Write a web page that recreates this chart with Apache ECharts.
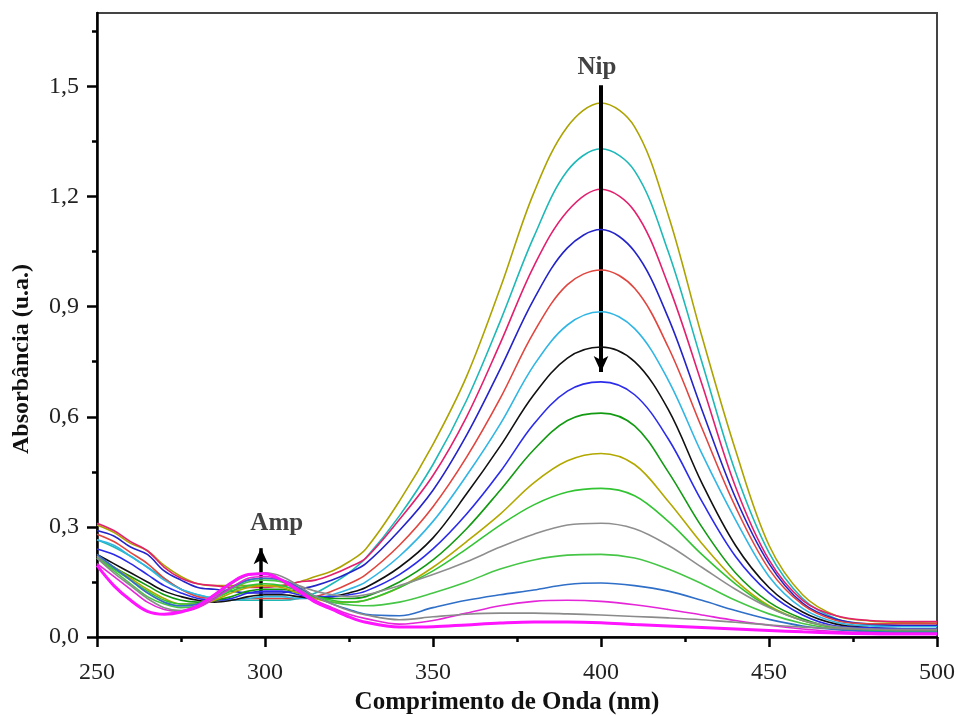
<!DOCTYPE html>
<html>
<head>
<meta charset="utf-8">
<title>Absorbância UV-Vis</title>
<script src="https://cdn.jsdelivr.net/npm/echarts@6/dist/echarts.min.js"></script>
<style>
  html, body { margin: 0; padding: 0; background: #fff; }
  #chart { width: 958px; height: 716px; }
</style>
</head>
<body>
<div id="chart"></div>
<script>
// Wavelength grid (nm)
const wavelengths = [250,255,260,265,270,275,280,285,290,295,300,305,310,315,320,325,330,
                     340,350,360,370,380,390,400,410,420,430,440,450,460,470,480,490,500];

// Absorbance spectra (u.a.), from highest to lowest band near 400 nm
const absOlive1 = [0.305,0.285,0.255,0.235,0.195,0.165,0.145,0.14,0.14,0.14,0.14,0.14,0.15,0.165,0.18,0.205,0.24,
                   0.37,0.525,0.71,0.95,1.21,1.39,1.455,1.39,1.15,0.82,0.51,0.25,0.115,0.058,0.044,0.04,0.038];
const absCyan1  = [0.265,0.245,0.22,0.19,0.16,0.13,0.115,0.105,0.10,0.10,0.10,0.10,0.105,0.12,0.145,0.175,0.215,
                   0.33,0.47,0.645,0.86,1.09,1.27,1.33,1.27,1.05,0.75,0.45,0.23,0.105,0.05,0.033,0.03,0.03];
const absPink   = [0.31,0.29,0.26,0.235,0.19,0.16,0.145,0.14,0.135,0.135,0.135,0.14,0.15,0.155,0.17,0.19,0.215,
                   0.32,0.44,0.60,0.80,1.01,1.16,1.22,1.16,0.96,0.69,0.41,0.21,0.10,0.058,0.045,0.042,0.042];
const absBlue1  = [0.29,0.275,0.245,0.225,0.18,0.155,0.135,0.13,0.125,0.12,0.12,0.12,0.13,0.14,0.155,0.175,0.20,
                   0.29,0.40,0.55,0.73,0.92,1.06,1.11,1.05,0.87,0.62,0.38,0.20,0.092,0.048,0.035,0.032,0.032];
const absRed    = [0.28,0.26,0.23,0.20,0.16,0.13,0.11,0.105,0.10,0.105,0.105,0.105,0.105,0.11,0.125,0.145,0.17,
                   0.25,0.355,0.49,0.65,0.83,0.96,1.0,0.95,0.79,0.57,0.355,0.185,0.088,0.045,0.036,0.036,0.036];
const absLtBlue = [0.265,0.25,0.22,0.19,0.155,0.13,0.115,0.105,0.10,0.105,0.11,0.11,0.105,0.105,0.115,0.13,0.15,
                   0.22,0.315,0.44,0.58,0.74,0.85,0.886,0.84,0.70,0.50,0.32,0.165,0.078,0.04,0.03,0.028,0.028];
const absBlack  = [0.225,0.20,0.175,0.15,0.125,0.11,0.10,0.095,0.10,0.11,0.115,0.115,0.11,0.105,0.11,0.12,0.135,
                   0.19,0.27,0.39,0.52,0.66,0.76,0.79,0.75,0.62,0.42,0.25,0.135,0.068,0.035,0.025,0.022,0.022];
const absBlue2  = [0.24,0.225,0.20,0.17,0.14,0.12,0.105,0.10,0.105,0.12,0.125,0.125,0.115,0.11,0.11,0.115,0.125,
                   0.17,0.24,0.335,0.45,0.58,0.67,0.695,0.66,0.54,0.37,0.22,0.12,0.06,0.03,0.025,0.022,0.022];
const absGreen1 = [0.215,0.19,0.165,0.14,0.115,0.10,0.095,0.10,0.11,0.125,0.13,0.13,0.12,0.11,0.105,0.105,0.11,
                   0.15,0.21,0.295,0.40,0.51,0.59,0.61,0.575,0.45,0.30,0.175,0.095,0.05,0.025,0.02,0.018,0.018];
const absOlive2 = [0.22,0.19,0.16,0.13,0.105,0.09,0.09,0.10,0.12,0.135,0.14,0.135,0.12,0.105,0.095,0.095,0.10,
                   0.135,0.19,0.26,0.335,0.42,0.48,0.50,0.47,0.37,0.255,0.155,0.085,0.045,0.025,0.016,0.015,0.015];
const absGreen2 = [0.215,0.185,0.155,0.125,0.10,0.09,0.09,0.105,0.125,0.14,0.145,0.14,0.125,0.11,0.10,0.095,0.10,
                   0.135,0.18,0.24,0.305,0.36,0.395,0.405,0.385,0.315,0.225,0.145,0.082,0.045,0.025,0.018,0.015,0.015];
const absGrey1  = [0.22,0.19,0.155,0.12,0.095,0.085,0.09,0.11,0.135,0.155,0.16,0.155,0.14,0.125,0.115,0.11,0.115,
                   0.14,0.17,0.205,0.245,0.28,0.305,0.31,0.295,0.25,0.19,0.13,0.08,0.045,0.028,0.022,0.02,0.02];
const absGreen3 = [0.215,0.18,0.145,0.11,0.09,0.08,0.085,0.105,0.13,0.15,0.155,0.15,0.13,0.11,0.095,0.088,0.085,
                   0.095,0.12,0.15,0.185,0.21,0.223,0.225,0.215,0.185,0.145,0.10,0.063,0.037,0.022,0.016,0.014,0.014];
const absBlue3  = [0.225,0.19,0.155,0.12,0.095,0.085,0.09,0.11,0.135,0.155,0.16,0.155,0.135,0.11,0.09,0.075,0.062,
                   0.058,0.08,0.10,0.115,0.128,0.143,0.147,0.14,0.125,0.10,0.072,0.048,0.03,0.02,0.015,0.013,0.013];
const absMag1   = [0.20,0.165,0.13,0.095,0.075,0.07,0.08,0.105,0.135,0.16,0.165,0.155,0.13,0.10,0.08,0.062,0.05,
                   0.035,0.045,0.065,0.085,0.097,0.10,0.097,0.088,0.075,0.06,0.045,0.032,0.022,0.015,0.012,0.01,0.01];
const absGrey2  = [0.215,0.175,0.14,0.105,0.08,0.072,0.085,0.11,0.145,0.168,0.175,0.165,0.14,0.11,0.09,0.072,0.06,
                   0.047,0.055,0.062,0.065,0.065,0.063,0.06,0.056,0.052,0.047,0.04,0.033,0.027,0.023,0.021,0.02,0.02];
const absMag2   = [0.195,0.14,0.10,0.07,0.062,0.068,0.085,0.115,0.148,0.17,0.172,0.155,0.125,0.095,0.075,0.055,0.04,
                   0.027,0.028,0.033,0.038,0.041,0.041,0.039,0.034,0.03,0.026,0.022,0.018,0.014,0.011,0.009,0.008,0.008];

// Axis ticks
const yMajorTicks = [0, 0.3, 0.6, 0.9, 1.2, 1.5];
const yMinorTicks = [0.15, 0.45, 0.75, 1.05, 1.35, 1.65];

// Annotation arrows and labels
const nipArrow = { x: 400, from: 1.503, to: 0.722 };
const ampArrow = { x: 298.8, from: 0.052, to: 0.242 };
const annotations = [[398.8, 1.552, 'Nip'], [303.5, 0.31, 'Amp']];

const spectra = [
  { data: absOlive1, color: '#ADA300', width: 1.6 },
  { data: absCyan1,  color: '#1FB8B8', width: 1.6 },
  { data: absPink,   color: '#E2206E', width: 1.6 },
  { data: absBlue1,  color: '#2424C8', width: 1.6 },
  { data: absRed,    color: '#E0463F', width: 1.6 },
  { data: absLtBlue, color: '#31B6E4', width: 1.6 },
  { data: absBlack,  color: '#111111', width: 1.6 },
  { data: absBlue2,  color: '#2B2BEA', width: 1.6 },
  { data: absGreen1, color: '#139A13', width: 1.6 },
  { data: absOlive2, color: '#B2A800', width: 1.6 },
  { data: absGreen2, color: '#33C433', width: 1.6 },
  { data: absGrey1,  color: '#8E8E8E', width: 1.6 },
  { data: absGreen3, color: '#46C646', width: 1.6 },
  { data: absBlue3,  color: '#2F6FC8', width: 1.6 },
  { data: absMag1,   color: '#E426D8', width: 1.6 },
  { data: absGrey2,  color: '#8A8A8A', width: 1.6 },
  { data: absMag2,   color: '#FF14FF', width: 3 }
];

const serif = '"Liberation Serif", "Times New Roman", serif';
const fmtComma = v => v.toFixed(1).replace('.', ',');

const series = spectra.map((s, i) => ({
  type: 'line',
  name: 'espectro' + (i + 1),
  data: wavelengths.map((w, k) => [w, s.data[k]]),
  showSymbol: false,
  smooth: 0.35,
  lineStyle: { color: s.color, width: s.width },
  itemStyle: { color: s.color },
  emphasis: { disabled: true },
  z: 2 + i
}));

// arrows
series.push({
  type: 'line',
  name: 'setas',
  data: [],
  silent: true,
  z: 40,
  markLine: {
    silent: true,
    symbol: ['none', 'arrow'],
    symbolSize: [11, 16],
    label: { show: false },
    lineStyle: { color: '#000', width: 4, type: 'solid' },
    emphasis: { disabled: true },
    data: [
      [{ coord: [nipArrow.x, nipArrow.from] }, { coord: [nipArrow.x, nipArrow.to] }],
      [{ coord: [ampArrow.x, ampArrow.from], lineStyle: { width: 3.5 } }, { coord: [ampArrow.x, ampArrow.to] }]
    ]
  }
});

// text labels
series.push({
  type: 'scatter',
  name: 'rotulos',
  data: annotations.map(a => ({ value: [a[0], a[1]], name: a[2] })),
  symbolSize: 0,
  silent: true,
  z: 41,
  label: {
    show: true,
    position: 'inside',
    formatter: p => p.name,
    fontFamily: serif,
    fontWeight: 'bold',
    fontSize: 25,
    color: '#111'
  }
});

const chart = echarts.init(document.getElementById('chart'), null, { renderer: 'canvas' });
chart.setOption({
  animation: false,
  backgroundColor: '#fff',
  grid: {
    left: 97, right: 21, top: 13, bottom: 79,
    outerBoundsMode: 'none',
    containLabel: false,
    show: true, borderColor: '#444', borderWidth: 2, backgroundColor: 'transparent'
  },
  xAxis: {
    type: 'value',
    min: 250, max: 500, interval: 50,
    name: 'Comprimento de Onda (nm)',
    nameLocation: 'middle',
    nameGap: 50,
    nameTextStyle: { fontFamily: serif, fontWeight: 'bold', fontSize: 25, color: '#111', padding: [0, 20, 0, 0] },
    axisLine: { show: true, lineStyle: { color: '#000', width: 2.5 } },
    axisTick: { show: true, inside: false, length: 10, lineStyle: { color: '#000', width: 2.5 } },
    minorTick: { show: true, splitNumber: 2, length: 5, lineStyle: { color: '#000', width: 2.5 } },
    axisLabel: { fontFamily: serif, fontSize: 24, color: '#222', margin: 24 },
    splitLine: { show: false },
    minorSplitLine: { show: false }
  },
  yAxis: [
    {
      type: 'value',
      min: 0, max: 1.7,
      name: 'Absorbância (u.a.)',
      nameLocation: 'middle',
      nameGap: 63,
      nameTextStyle: { fontFamily: serif, fontWeight: 'bold', fontSize: 24, color: '#111', padding: [0, 68, 0, 0] },
      axisLine: { show: true, lineStyle: { color: '#000', width: 2.5 } },
      axisTick: { show: true, length: 10, customValues: yMajorTicks, lineStyle: { color: '#000', width: 2.5 } },
      axisLabel: { fontFamily: serif, fontSize: 24, color: '#222', margin: 18,
                   customValues: yMajorTicks, formatter: fmtComma },
      splitLine: { show: false }
    },
    {
      type: 'value',
      min: 0, max: 1.7,
      position: 'left',
      axisLine: { show: false },
      axisTick: { show: true, length: 5, customValues: yMinorTicks, lineStyle: { color: '#000', width: 2.5 } },
      axisLabel: { show: false },
      splitLine: { show: false }
    }
  ],
  series: series
});
</script>
</body>
</html>
